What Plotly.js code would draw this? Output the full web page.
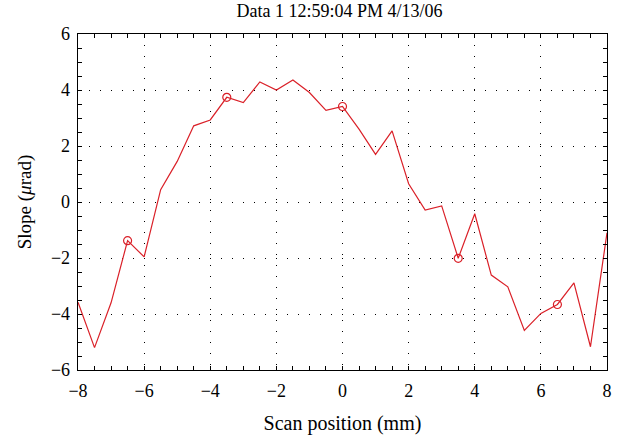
<!DOCTYPE html>
<html>
<head>
<meta charset="utf-8">
<script src="https://cdn.plot.ly/plotly-3.0.1.min.js"></script>
<style>html,body{margin:0;padding:0;background:#fff;}#chart{width:623px;height:437px;}</style>
</head>
<body>
<div id="chart"></div>
<script>
// Scan position (mm)
const scanPos = [-8, -7.5, -7, -6.5, -6, -5.5, -5, -4.5, -4, -3.5, -3, -2.5, -2, -1.5, -1, -0.5, 0, 0.5, 1, 1.5, 2, 2.5, 3, 3.5, 4, 4.5, 5, 5.5, 6, 6.5, 7, 7.5, 8];
// Slope (µrad)
const slope = [-3.58, -5.20, -3.60, -1.38, -1.96, 0.44, 1.45, 2.72, 2.93, 3.74, 3.55, 4.29, 4.00, 4.36, 3.91, 3.27, 3.41, 2.60, 1.70, 2.54, 0.65, -0.29, -0.14, -2.01, -0.42, -2.61, -3.03, -4.59, -3.98, -3.66, -2.89, -5.17, -1.10];
// Marked points (circles)
const markPos = [-6.5, -3.5, 0, 3.5, 6.5];
const markSlope = [-1.38, 3.74, 3.41, -2.01, -3.66];

const xTicks = [-8, -6, -4, -2, 0, 2, 4, 6, 8];
const yTicks = [-6, -4, -2, 0, 2, 4, 6];

const red = 'rgb(218,32,40)';
const serif = 'Liberation Serif, DejaVu Serif, serif';

const traces = [
  {x: scanPos, y: slope, type: 'scatter', mode: 'lines', line: {color: red, width: 1.2}, hoverinfo: 'skip'},
  {x: markPos, y: markSlope, type: 'scatter', mode: 'markers',
   marker: {symbol: 'circle-open', size: 8, color: red, line: {width: 1.2, color: red}}, hoverinfo: 'skip'}
];

const axisCommon = {
  showline: true, linecolor: '#000', linewidth: 1.3, mirror: 'allticks',
  ticks: 'inside', ticklen: 4, tickwidth: 1, tickcolor: '#000',
  showgrid: true, gridcolor: '#000', gridwidth: 1, griddash: '1px,10px',
  zeroline: false,
  tickfont: {family: serif, size: 18, color: '#000'},
  minor: {dtick: 0.5, ticks: 'inside', ticklen: 4, tickwidth: 1, tickcolor: '#000', showgrid: false}
};

const layout = {
  width: 623, height: 437,
  margin: {l: 78, r: 16, t: 34, b: 66.5},
  paper_bgcolor: '#fff', plot_bgcolor: '#fff',
  showlegend: false,
  title: {text: 'Data 1 12:59:04 PM 4/13/06', font: {family: serif, size: 18, color: '#000'}, x: 0.545, xanchor: 'center', y: 0.99, yanchor: 'top'},
  xaxis: Object.assign({}, axisCommon, {
    range: [-8, 8], tickvals: xTicks, ticktext: xTicks.map(v => v < 0 ? '\u2212' + Math.abs(v) : String(v)),
    ticklabelstandoff: 4,
    title: {text: 'Scan position (mm)', font: {family: serif, size: 20, color: '#000'}, standoff: 16}
  }),
  yaxis: Object.assign({}, axisCommon, {
    range: [-6, 6], tickvals: yTicks, ticktext: yTicks.map(v => v < 0 ? '\u2212' + Math.abs(v) : String(v)),
    ticklabelstandoff: 3,
    title: {text: 'Slope (<i>\u03bc</i>rad)', font: {family: serif, size: 19, color: '#000'}, standoff: 14}
  })
};

Plotly.newPlot('chart', traces, layout, {staticPlot: true, displayModeBar: false});
</script>
</body>
</html>
